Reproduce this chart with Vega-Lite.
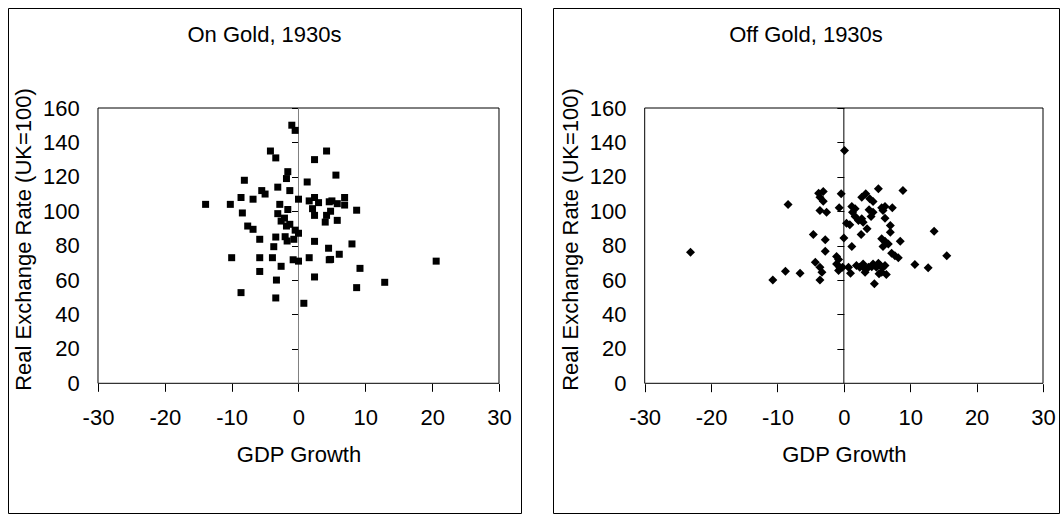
{
  "$schema": "https://vega.github.io/schema/vega-lite/v6.json",
  "padding": {"left": 7, "top": 7, "right": 0, "bottom": 0},
  "background": "white",
  "spacing": 30,
  "datasets": {
    "ongold": [
      {"growth": -1.0, "rer": 150}, {"growth": -0.5, "rer": 147}, {"growth": -4.2, "rer": 135}, {"growth": -3.4, "rer": 131},
      {"growth": 4.2, "rer": 135}, {"growth": 2.4, "rer": 130}, {"growth": -1.6, "rer": 123}, {"growth": -1.8, "rer": 119},
      {"growth": -8.1, "rer": 118}, {"growth": 1.3, "rer": 117}, {"growth": -5.5, "rer": 112}, {"growth": -5.0, "rer": 110},
      {"growth": -3.1, "rer": 114}, {"growth": -1.3, "rer": 112}, {"growth": -13.9, "rer": 104}, {"growth": -10.2, "rer": 104},
      {"growth": -8.6, "rer": 108}, {"growth": -6.8, "rer": 107}, {"growth": -2.8, "rer": 104}, {"growth": -1.6, "rer": 101},
      {"growth": 0.0, "rer": 107}, {"growth": 1.6, "rer": 106}, {"growth": 2.4, "rer": 108}, {"growth": 3.0, "rer": 105},
      {"growth": 2.1, "rer": 101.5}, {"growth": 2.4, "rer": 97.6}, {"growth": 4.6, "rer": 105.5}, {"growth": 4.2, "rer": 97.6},
      {"growth": 4.0, "rer": 93.7}, {"growth": -8.4, "rer": 99}, {"growth": -3.1, "rer": 98.6}, {"growth": -2.6, "rer": 94.3},
      {"growth": -2.1, "rer": 96}, {"growth": -1.3, "rer": 92.4}, {"growth": -1.8, "rer": 91.4}, {"growth": -7.6, "rer": 91.4},
      {"growth": -6.8, "rer": 89.5}, {"growth": -0.5, "rer": 89}, {"growth": 0.0, "rer": 87.2}, {"growth": -5.8, "rer": 83.7},
      {"growth": -3.4, "rer": 85}, {"growth": -2.0, "rer": 85.2}, {"growth": -0.7, "rer": 83.7}, {"growth": 2.4, "rer": 82.5},
      {"growth": -3.7, "rer": 79.4}, {"growth": -1.7, "rer": 82.7}, {"growth": 4.5, "rer": 78.5}, {"growth": -10.0, "rer": 73},
      {"growth": -5.8, "rer": 73}, {"growth": -3.9, "rer": 73}, {"growth": -0.8, "rer": 71.8}, {"growth": 0.0, "rer": 71},
      {"growth": 1.6, "rer": 73}, {"growth": 4.6, "rer": 71.8}, {"growth": -2.6, "rer": 68}, {"growth": -5.8, "rer": 65},
      {"growth": -3.3, "rer": 60}, {"growth": 2.4, "rer": 61.8}, {"growth": -8.6, "rer": 52.7}, {"growth": -3.4, "rer": 49.6},
      {"growth": 0.8, "rer": 46.5}, {"growth": 5.6, "rer": 121}, {"growth": 5.0, "rer": 106}, {"growth": 5.8, "rer": 104.4},
      {"growth": 6.9, "rer": 108}, {"growth": 6.9, "rer": 103.6}, {"growth": 8.7, "rer": 100.6}, {"growth": 4.8, "rer": 100},
      {"growth": 5.8, "rer": 94.7}, {"growth": 8.0, "rer": 81}, {"growth": 6.1, "rer": 75}, {"growth": 4.8, "rer": 72},
      {"growth": 9.2, "rer": 66.8}, {"growth": 8.7, "rer": 55.6}, {"growth": 12.9, "rer": 58.7}, {"growth": 20.6, "rer": 71}
    ],
    "offgold": [
      {"growth": -8.4, "rer": 103.9}, {"growth": -23.1, "rer": 76.2}, {"growth": -8.8, "rer": 65.1}, {"growth": -10.7, "rer": 60.1},
      {"growth": -6.6, "rer": 64}, {"growth": 0.1, "rer": 135.3}, {"growth": -3.8, "rer": 110.5}, {"growth": -3.1, "rer": 111.5},
      {"growth": -3.6, "rer": 108.1}, {"growth": -3.1, "rer": 105.8}, {"growth": -3.6, "rer": 100.4}, {"growth": -2.6, "rer": 99.4},
      {"growth": -0.4, "rer": 110.1}, {"growth": -0.7, "rer": 102}, {"growth": 5.2, "rer": 113}, {"growth": 8.9, "rer": 112},
      {"growth": 2.7, "rer": 108.1}, {"growth": 3.3, "rer": 110.1}, {"growth": 3.9, "rer": 107.2}, {"growth": 4.4, "rer": 105.6},
      {"growth": 1.2, "rer": 102.7}, {"growth": 1.7, "rer": 101.4}, {"growth": 1.3, "rer": 99.4}, {"growth": 3.8, "rer": 100.8},
      {"growth": 4.4, "rer": 99.4}, {"growth": 4.1, "rer": 96.9}, {"growth": 5.7, "rer": 102}, {"growth": 6.2, "rer": 102.7},
      {"growth": 7.3, "rer": 102}, {"growth": 5.9, "rer": 100.4}, {"growth": 1.7, "rer": 96.9}, {"growth": 2.2, "rer": 94.6},
      {"growth": 2.7, "rer": 95.6}, {"growth": 2.9, "rer": 93.6}, {"growth": 0.4, "rer": 93}, {"growth": 0.9, "rer": 92.1},
      {"growth": 6.2, "rer": 95.9}, {"growth": 7.0, "rer": 91.7}, {"growth": 3.5, "rer": 89.8}, {"growth": 7.0, "rer": 87.8},
      {"growth": 2.6, "rer": 86.5}, {"growth": 0.0, "rer": 84.5}, {"growth": -4.6, "rer": 86.5}, {"growth": -2.8, "rer": 83.5},
      {"growth": 5.7, "rer": 84}, {"growth": 6.2, "rer": 82.6}, {"growth": 6.7, "rer": 81}, {"growth": 5.9, "rer": 79.5},
      {"growth": 8.5, "rer": 82.6}, {"growth": 1.2, "rer": 79.5}, {"growth": -2.8, "rer": 76.7}, {"growth": -1.1, "rer": 73.7},
      {"growth": -0.8, "rer": 71.9}, {"growth": 7.2, "rer": 75.6}, {"growth": 7.7, "rer": 74.2}, {"growth": 8.2, "rer": 72.9},
      {"growth": -4.3, "rer": 70.3}, {"growth": -3.6, "rer": 67.4}, {"growth": -3.3, "rer": 64.5}, {"growth": -3.6, "rer": 60.1},
      {"growth": -1.1, "rer": 69.4}, {"growth": -0.6, "rer": 67.1}, {"growth": -0.8, "rer": 65.5}, {"growth": -0.2, "rer": 67.4},
      {"growth": 0.7, "rer": 67.4}, {"growth": 1.0, "rer": 64}, {"growth": 1.9, "rer": 68.4}, {"growth": 2.4, "rer": 67.4},
      {"growth": 2.9, "rer": 69.4}, {"growth": 3.2, "rer": 66.5}, {"growth": 3.2, "rer": 64.5}, {"growth": 3.7, "rer": 67.4},
      {"growth": 4.2, "rer": 67.8}, {"growth": 4.4, "rer": 69.4}, {"growth": 4.9, "rer": 67.4}, {"growth": 5.2, "rer": 69.8},
      {"growth": 5.5, "rer": 68.4}, {"growth": 5.8, "rer": 67.1}, {"growth": 6.2, "rer": 68.4}, {"growth": 5.7, "rer": 64.5},
      {"growth": 5.3, "rer": 63.6}, {"growth": 6.4, "rer": 63.2}, {"growth": 4.6, "rer": 57.8}, {"growth": 10.7, "rer": 69},
      {"growth": 12.7, "rer": 67.1}, {"growth": 15.5, "rer": 74.2}, {"growth": 13.6, "rer": 88.4}
    ]
  },
  "hconcat": [
    {
      "width": 513,
      "height": 505,
      "title": {"text": "On Gold, 1930s", "offset": -56, "baseline": "alphabetic"},
      "layer": [
        {
          "data": {"values": [{}]},
          "mark": {"type": "rect", "fill": "white", "fillOpacity": 0, "stroke": "black", "strokeWidth": 1},
          "encoding": {
            "x": {"datum": -30, "type": "quantitative",
              "scale": {"domain": [-43.466, 33.292], "nice": false, "zero": false},
              "axis": {"orient": "bottom", "offset": -129.7, "values": [-30, -20, -10, 0, 10, 20, 30], "domain": false, "grid": false,
                "tickSize": 8, "tickColor": "black", "labelPadding": 16, "labelFlush": false, "labelExpr": "datum.value + ''",
                "title": "GDP Growth", "titlePadding": 16, "titleX": 290.5}},
            "x2": {"datum": 30},
            "y": {"datum": 0, "type": "quantitative",
              "scale": {"domain": [-75.38, 218.12], "nice": false, "zero": false},
              "axis": {"orient": "left", "offset": -90, "values": [0, 20, 40, 60, 80, 100, 120, 140, 160], "domain": false, "grid": false,
                "ticks": false, "tickSize": 0, "labelPadding": 18.7, "labelFlush": false, "title": "Real Exchange Rate (UK=100)", "titlePadding": 7, "titleY": 231}},
            "y2": {"datum": 160}
          }
        },
        {
          "data": {"values": [{}]},
          "mark": {"type": "rule", "color": "#808080", "strokeWidth": 1},
          "encoding": {
            "x": {"datum": 0, "type": "quantitative", "axis": null},
            "y": {"datum": 0, "type": "quantitative",
              "axis": {"orient": "left", "offset": -290.5, "values": [20, 40, 60, 80, 100, 120, 140, 160], "domain": false, "grid": false,
                "labels": false, "tickSize": 7, "tickColor": "black", "title": null}},
            "y2": {"datum": 160}
          }
        },
        {
          "data": {"name": "ongold"},
          "mark": {"type": "point", "shape": "square", "filled": true, "size": 49, "color": "black", "opacity": 1},
          "encoding": {
            "x": {"field": "growth", "type": "quantitative", "axis": null},
            "y": {"field": "rer", "type": "quantitative", "axis": null}
          }
        }
      ],
      "resolve": {"axis": {"x": "independent", "y": "independent"}}
    },
    {
      "width": 506,
      "height": 505,
      "title": {"text": "Off Gold, 1930s", "offset": -56, "baseline": "alphabetic"},
      "layer": [
        {
          "data": {"values": [{}]},
          "mark": {"type": "rect", "fill": "white", "fillOpacity": 0, "stroke": "black", "strokeWidth": 1},
          "encoding": {
            "x": {"datum": -30, "type": "quantitative",
              "scale": {"domain": [-43.814, 32.41], "nice": false, "zero": false},
              "axis": {"orient": "bottom", "offset": -129.3, "values": [-30, -20, -10, 0, 10, 20, 30], "domain": false, "grid": false,
                "tickSize": 8, "tickColor": "black", "labelPadding": 16, "labelFlush": false, "labelExpr": "datum.value + ''",
                "title": "GDP Growth", "titlePadding": 16, "titleX": 290.85}},
            "x2": {"datum": 30},
            "y": {"datum": 0, "type": "quantitative",
              "scale": {"domain": [-75.38, 218.12], "nice": false, "zero": false},
              "axis": {"orient": "left", "offset": -91.7, "values": [0, 20, 40, 60, 80, 100, 120, 140, 160], "domain": false, "grid": false,
                "ticks": false, "tickSize": 0, "labelPadding": 18.7, "labelFlush": false, "title": "Real Exchange Rate (UK=100)", "titlePadding": 7, "titleY": 231}},
            "y2": {"datum": 160}
          }
        },
        {
          "data": {"values": [{}]},
          "mark": {"type": "rule", "color": "black", "strokeWidth": 1},
          "encoding": {
            "x": {"datum": 0, "type": "quantitative", "axis": null},
            "y": {"datum": 0, "type": "quantitative",
              "axis": {"orient": "left", "offset": -290.85, "values": [20, 40, 60, 80, 100, 120, 140, 160], "domain": false, "grid": false,
                "labels": false, "tickSize": 7, "tickColor": "black", "title": null}},
            "y2": {"datum": 160}
          }
        },
        {
          "data": {"name": "offgold"},
          "mark": {"type": "point", "shape": "diamond", "filled": true, "size": 81, "color": "black", "opacity": 1},
          "encoding": {
            "x": {"field": "growth", "type": "quantitative", "axis": null},
            "y": {"field": "rer", "type": "quantitative", "axis": null}
          }
        }
      ],
      "resolve": {"axis": {"x": "independent", "y": "independent"}}
    }
  ],
  "config": {
    "font": "Liberation Sans",
    "view": {"stroke": "black", "strokeWidth": 1},
    "axis": {"labelFontSize": 22, "titleFontSize": 22, "titleFontWeight": "normal", "labelColor": "black", "titleColor": "black",
      "labelFont": "Liberation Sans", "titleFont": "Liberation Sans", "tickWidth": 1},
    "title": {"fontSize": 22, "fontWeight": "normal", "color": "black", "font": "Liberation Sans", "anchor": "middle"}
  }
}
